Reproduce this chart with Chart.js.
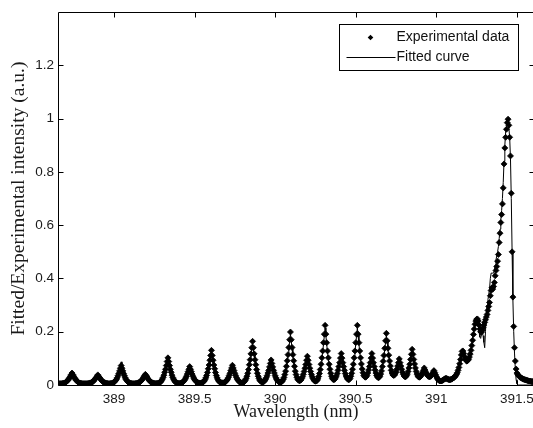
<!DOCTYPE html>
<html>
<head>
<meta charset="utf-8">
<script src="https://cdn.jsdelivr.net/npm/chart.js@4.4.1/dist/chart.umd.min.js"></script>
<style>
  html, body { margin: 0; padding: 0; background: #fff; overflow: hidden; }
  #wrap { position: relative; width: 540px; height: 428px; }
</style>
</head>
<body>
<div id="wrap"><canvas id="spectrumChart"></canvas></div>
<script>
// Bước sóng (nm), bước 0.005 nm
const wavelength = [
  388.660, 388.665, 388.670, 388.675, 388.680, 388.685, 388.690, 388.695, 388.700, 388.705,
  388.710, 388.715, 388.720, 388.725, 388.730, 388.735, 388.740, 388.745, 388.750, 388.755,
  388.760, 388.765, 388.770, 388.775, 388.780, 388.785, 388.790, 388.795, 388.800, 388.805,
  388.810, 388.815, 388.820, 388.825, 388.830, 388.835, 388.840, 388.845, 388.850, 388.855,
  388.860, 388.865, 388.870, 388.875, 388.880, 388.885, 388.890, 388.895, 388.900, 388.905,
  388.910, 388.915, 388.920, 388.925, 388.930, 388.935, 388.940, 388.945, 388.950, 388.955,
  388.960, 388.965, 388.970, 388.975, 388.980, 388.985, 388.990, 388.995, 389.000, 389.005,
  389.010, 389.015, 389.020, 389.025, 389.030, 389.035, 389.040, 389.045, 389.050, 389.055,
  389.060, 389.065, 389.070, 389.075, 389.080, 389.085, 389.090, 389.095, 389.100, 389.105,
  389.110, 389.115, 389.120, 389.125, 389.130, 389.135, 389.140, 389.145, 389.150, 389.155,
  389.160, 389.165, 389.170, 389.175, 389.180, 389.185, 389.190, 389.195, 389.200, 389.205,
  389.210, 389.215, 389.220, 389.225, 389.230, 389.235, 389.240, 389.245, 389.250, 389.255,
  389.260, 389.265, 389.270, 389.275, 389.280, 389.285, 389.290, 389.295, 389.300, 389.305,
  389.310, 389.315, 389.320, 389.325, 389.330, 389.335, 389.340, 389.345, 389.350, 389.355,
  389.360, 389.365, 389.370, 389.375, 389.380, 389.385, 389.390, 389.395, 389.400, 389.405,
  389.410, 389.415, 389.420, 389.425, 389.430, 389.435, 389.440, 389.445, 389.450, 389.455,
  389.460, 389.465, 389.470, 389.475, 389.480, 389.485, 389.490, 389.495, 389.500, 389.505,
  389.510, 389.515, 389.520, 389.525, 389.530, 389.535, 389.540, 389.545, 389.550, 389.555,
  389.560, 389.565, 389.570, 389.575, 389.580, 389.585, 389.590, 389.595, 389.600, 389.605,
  389.610, 389.615, 389.620, 389.625, 389.630, 389.635, 389.640, 389.645, 389.650, 389.655,
  389.660, 389.665, 389.670, 389.675, 389.680, 389.685, 389.690, 389.695, 389.700, 389.705,
  389.710, 389.715, 389.720, 389.725, 389.730, 389.735, 389.740, 389.745, 389.750, 389.755,
  389.760, 389.765, 389.770, 389.775, 389.780, 389.785, 389.790, 389.795, 389.800, 389.805,
  389.810, 389.815, 389.820, 389.825, 389.830, 389.835, 389.840, 389.845, 389.850, 389.855,
  389.860, 389.865, 389.870, 389.875, 389.880, 389.885, 389.890, 389.895, 389.900, 389.905,
  389.910, 389.915, 389.920, 389.925, 389.930, 389.935, 389.940, 389.945, 389.950, 389.955,
  389.960, 389.965, 389.970, 389.975, 389.980, 389.985, 389.990, 389.995, 390.000, 390.005,
  390.010, 390.015, 390.020, 390.025, 390.030, 390.035, 390.040, 390.045, 390.050, 390.055,
  390.060, 390.065, 390.070, 390.075, 390.080, 390.085, 390.090, 390.095, 390.100, 390.105,
  390.110, 390.115, 390.120, 390.125, 390.130, 390.135, 390.140, 390.145, 390.150, 390.155,
  390.160, 390.165, 390.170, 390.175, 390.180, 390.185, 390.190, 390.195, 390.200, 390.205,
  390.210, 390.215, 390.220, 390.225, 390.230, 390.235, 390.240, 390.245, 390.250, 390.255,
  390.260, 390.265, 390.270, 390.275, 390.280, 390.285, 390.290, 390.295, 390.300, 390.305,
  390.310, 390.315, 390.320, 390.325, 390.330, 390.335, 390.340, 390.345, 390.350, 390.355,
  390.360, 390.365, 390.370, 390.375, 390.380, 390.385, 390.390, 390.395, 390.400, 390.405,
  390.410, 390.415, 390.420, 390.425, 390.430, 390.435, 390.440, 390.445, 390.450, 390.455,
  390.460, 390.465, 390.470, 390.475, 390.480, 390.485, 390.490, 390.495, 390.500, 390.505,
  390.510, 390.515, 390.520, 390.525, 390.530, 390.535, 390.540, 390.545, 390.550, 390.555,
  390.560, 390.565, 390.570, 390.575, 390.580, 390.585, 390.590, 390.595, 390.600, 390.605,
  390.610, 390.615, 390.620, 390.625, 390.630, 390.635, 390.640, 390.645, 390.650, 390.655,
  390.660, 390.665, 390.670, 390.675, 390.680, 390.685, 390.690, 390.695, 390.700, 390.705,
  390.710, 390.715, 390.720, 390.725, 390.730, 390.735, 390.740, 390.745, 390.750, 390.755,
  390.760, 390.765, 390.770, 390.775, 390.780, 390.785, 390.790, 390.795, 390.800, 390.805,
  390.810, 390.815, 390.820, 390.825, 390.830, 390.835, 390.840, 390.845, 390.850, 390.855,
  390.860, 390.865, 390.870, 390.875, 390.880, 390.885, 390.890, 390.895, 390.900, 390.905,
  390.910, 390.915, 390.920, 390.925, 390.930, 390.935, 390.940, 390.945, 390.950, 390.955,
  390.960, 390.965, 390.970, 390.975, 390.980, 390.985, 390.990, 390.995, 391.000, 391.005,
  391.010, 391.015, 391.020, 391.025, 391.030, 391.035, 391.040, 391.045, 391.050, 391.055,
  391.060, 391.065, 391.070, 391.075, 391.080, 391.085, 391.090, 391.095, 391.100, 391.105,
  391.110, 391.115, 391.120, 391.125, 391.130, 391.135, 391.140, 391.145, 391.150, 391.155,
  391.160, 391.165, 391.170, 391.175, 391.180, 391.185, 391.190, 391.195, 391.200, 391.205,
  391.210, 391.215, 391.220, 391.225, 391.230, 391.235, 391.240, 391.245, 391.250, 391.255,
  391.260, 391.265, 391.270, 391.275, 391.280, 391.285, 391.290, 391.295, 391.300, 391.305,
  391.310, 391.315, 391.320, 391.325, 391.330, 391.335, 391.340, 391.345, 391.350, 391.355,
  391.360, 391.365, 391.370, 391.375, 391.380, 391.385, 391.390, 391.395, 391.400, 391.405,
  391.410, 391.415, 391.420, 391.425, 391.430, 391.435, 391.440, 391.445, 391.450, 391.455,
  391.460, 391.465, 391.470, 391.475, 391.480, 391.485, 391.490, 391.495, 391.500, 391.505,
  391.510, 391.515, 391.520, 391.525, 391.530, 391.535, 391.540, 391.545, 391.550, 391.555,
  391.560, 391.565, 391.570, 391.575, 391.580, 391.585, 391.590, 391.595, 391.600,
];

// Cường độ thực nghiệm (a.u.)
const experimentalIntensity = [
  0.005, 0.005, 0.005, 0.005, 0.006, 0.006, 0.007, 0.008, 0.010, 0.012,
  0.015, 0.018, 0.023, 0.027, 0.033, 0.039, 0.045, 0.039, 0.033, 0.027,
  0.023, 0.018, 0.015, 0.012, 0.010, 0.008, 0.007, 0.006, 0.006, 0.005,
  0.005, 0.005, 0.005, 0.005, 0.005, 0.005, 0.006, 0.006, 0.007, 0.008,
  0.009, 0.011, 0.013, 0.016, 0.020, 0.024, 0.028, 0.033, 0.038, 0.033,
  0.028, 0.024, 0.020, 0.016, 0.013, 0.011, 0.009, 0.008, 0.007, 0.006,
  0.006, 0.005, 0.005, 0.005, 0.006, 0.006, 0.007, 0.008, 0.010, 0.013,
  0.017, 0.021, 0.027, 0.035, 0.043, 0.053, 0.063, 0.073, 0.063, 0.053,
  0.043, 0.035, 0.027, 0.021, 0.017, 0.013, 0.010, 0.008, 0.007, 0.006,
  0.006, 0.005, 0.005, 0.005, 0.005, 0.006, 0.006, 0.007, 0.008, 0.009,
  0.011, 0.013, 0.017, 0.020, 0.025, 0.030, 0.035, 0.040, 0.035, 0.030,
  0.025, 0.020, 0.017, 0.013, 0.011, 0.009, 0.008, 0.007, 0.006, 0.006,
  0.005, 0.006, 0.006, 0.007, 0.008, 0.009, 0.012, 0.016, 0.022, 0.028,
  0.037, 0.048, 0.059, 0.073, 0.088, 0.102, 0.088, 0.073, 0.059, 0.048,
  0.037, 0.028, 0.022, 0.016, 0.012, 0.009, 0.008, 0.007, 0.006, 0.006,
  0.006, 0.007, 0.008, 0.010, 0.012, 0.016, 0.020, 0.026, 0.033, 0.041,
  0.050, 0.059, 0.069, 0.059, 0.050, 0.041, 0.033, 0.026, 0.021, 0.017,
  0.013, 0.011, 0.009, 0.008, 0.007, 0.007, 0.007, 0.008, 0.009, 0.012,
  0.015, 0.020, 0.027, 0.036, 0.047, 0.061, 0.075, 0.093, 0.111, 0.130,
  0.111, 0.093, 0.075, 0.061, 0.047, 0.036, 0.027, 0.020, 0.015, 0.012,
  0.009, 0.008, 0.008, 0.008, 0.008, 0.009, 0.011, 0.014, 0.018, 0.022,
  0.028, 0.036, 0.044, 0.054, 0.064, 0.074, 0.064, 0.054, 0.044, 0.036,
  0.028, 0.022, 0.018, 0.014, 0.011, 0.009, 0.008, 0.008, 0.009, 0.011,
  0.013, 0.018, 0.024, 0.033, 0.044, 0.058, 0.076, 0.095, 0.117, 0.140,
  0.164, 0.140, 0.117, 0.095, 0.076, 0.058, 0.044, 0.033, 0.024, 0.018,
  0.014, 0.012, 0.011, 0.011, 0.013, 0.016, 0.021, 0.027, 0.035, 0.045,
  0.055, 0.068, 0.081, 0.094, 0.081, 0.068, 0.055, 0.045, 0.035, 0.027,
  0.021, 0.016, 0.013, 0.011, 0.010, 0.010, 0.012, 0.015, 0.021, 0.028,
  0.039, 0.052, 0.070, 0.091, 0.114, 0.141, 0.170, 0.199, 0.170, 0.141,
  0.114, 0.091, 0.070, 0.052, 0.039, 0.029, 0.022, 0.018, 0.016, 0.017,
  0.019, 0.024, 0.031, 0.040, 0.051, 0.063, 0.077, 0.093, 0.108, 0.093,
  0.077, 0.063, 0.051, 0.040, 0.031, 0.024, 0.019, 0.015, 0.014, 0.015,
  0.017, 0.023, 0.032, 0.043, 0.058, 0.078, 0.102, 0.128, 0.159, 0.191,
  0.224, 0.191, 0.159, 0.128, 0.102, 0.078, 0.059, 0.044, 0.033, 0.025,
  0.021, 0.020, 0.022, 0.027, 0.034, 0.043, 0.055, 0.069, 0.084, 0.101,
  0.118, 0.101, 0.084, 0.069, 0.055, 0.043, 0.034, 0.027, 0.022, 0.020,
  0.021, 0.025, 0.033, 0.044, 0.059, 0.078, 0.102, 0.128, 0.159, 0.191,
  0.224, 0.191, 0.159, 0.128, 0.102, 0.079, 0.060, 0.046, 0.036, 0.031,
  0.029, 0.031, 0.036, 0.045, 0.056, 0.069, 0.084, 0.101, 0.118, 0.101,
  0.084, 0.069, 0.056, 0.045, 0.036, 0.030, 0.027, 0.029, 0.033, 0.041,
  0.053, 0.069, 0.089, 0.111, 0.138, 0.166, 0.194, 0.166, 0.138, 0.112,
  0.090, 0.071, 0.055, 0.045, 0.038, 0.036, 0.037, 0.042, 0.049, 0.059,
  0.071, 0.084, 0.098, 0.084, 0.071, 0.059, 0.048, 0.040, 0.034, 0.031,
  0.031, 0.035, 0.041, 0.051, 0.064, 0.078, 0.096, 0.115, 0.134, 0.115,
  0.096, 0.079, 0.064, 0.051, 0.041, 0.034, 0.030, 0.029, 0.031, 0.035,
  0.040, 0.047, 0.055, 0.064, 0.056, 0.048, 0.041, 0.037, 0.033, 0.031,
  0.031, 0.033, 0.037, 0.041, 0.048, 0.054, 0.047, 0.039, 0.032, 0.026,
  0.021, 0.018, 0.016, 0.015, 0.015, 0.016, 0.018, 0.020, 0.022, 0.024,
  0.025, 0.024, 0.022, 0.021, 0.020, 0.020, 0.021, 0.022, 0.024, 0.026,
  0.028, 0.031, 0.035, 0.040, 0.046, 0.055, 0.066, 0.080, 0.096, 0.113,
  0.126, 0.128, 0.118, 0.106, 0.097, 0.092, 0.090, 0.092, 0.097, 0.105,
  0.116, 0.130, 0.148, 0.168, 0.190, 0.210, 0.228, 0.240, 0.247, 0.248,
  0.240, 0.225, 0.210, 0.200, 0.198, 0.205, 0.215, 0.225, 0.235, 0.245,
  0.255, 0.265, 0.280, 0.295, 0.310, 0.335, 0.355, 0.365, 0.360, 0.370,
  0.385, 0.410, 0.430, 0.445, 0.465, 0.490, 0.535, 0.570, 0.610, 0.640,
  0.680, 0.740, 0.830, 0.890, 0.930, 0.960, 0.985, 0.998, 0.975, 0.930,
  0.860, 0.720, 0.500, 0.330, 0.220, 0.140, 0.090, 0.060, 0.045, 0.040,
  0.036, 0.032, 0.029, 0.027, 0.025, 0.024, 0.022, 0.021, 0.020, 0.019,
  0.018, 0.017, 0.016, 0.015, 0.015, 0.014, 0.013, 0.013, 0.012,
];

// Đường cong khớp (a.u.)
const fittedIntensity = [
  0.004, 0.004, 0.004, 0.004, 0.005, 0.005, 0.006, 0.007, 0.009, 0.011,
  0.014, 0.017, 0.022, 0.026, 0.032, 0.038, 0.043, 0.038, 0.032, 0.026,
  0.022, 0.017, 0.014, 0.011, 0.009, 0.007, 0.006, 0.005, 0.005, 0.004,
  0.004, 0.004, 0.004, 0.004, 0.004, 0.004, 0.005, 0.005, 0.006, 0.007,
  0.008, 0.010, 0.012, 0.015, 0.020, 0.025, 0.032, 0.039, 0.045, 0.039,
  0.032, 0.025, 0.020, 0.015, 0.012, 0.010, 0.008, 0.007, 0.006, 0.005,
  0.005, 0.004, 0.004, 0.004, 0.005, 0.005, 0.006, 0.007, 0.009, 0.012,
  0.016, 0.021, 0.028, 0.037, 0.047, 0.060, 0.074, 0.087, 0.074, 0.060,
  0.047, 0.037, 0.028, 0.021, 0.016, 0.012, 0.009, 0.007, 0.006, 0.005,
  0.005, 0.004, 0.004, 0.004, 0.004, 0.005, 0.005, 0.006, 0.007, 0.008,
  0.010, 0.012, 0.016, 0.019, 0.024, 0.029, 0.034, 0.039, 0.034, 0.029,
  0.024, 0.019, 0.016, 0.012, 0.010, 0.008, 0.007, 0.006, 0.005, 0.005,
  0.004, 0.005, 0.005, 0.006, 0.007, 0.008, 0.011, 0.015, 0.021, 0.027,
  0.036, 0.047, 0.058, 0.072, 0.087, 0.100, 0.087, 0.072, 0.058, 0.047,
  0.036, 0.027, 0.021, 0.015, 0.011, 0.008, 0.007, 0.006, 0.005, 0.005,
  0.005, 0.006, 0.007, 0.009, 0.011, 0.015, 0.020, 0.026, 0.034, 0.043,
  0.054, 0.065, 0.076, 0.065, 0.054, 0.043, 0.034, 0.026, 0.020, 0.016,
  0.012, 0.010, 0.008, 0.007, 0.006, 0.006, 0.006, 0.007, 0.008, 0.011,
  0.014, 0.019, 0.026, 0.035, 0.046, 0.059, 0.073, 0.090, 0.108, 0.126,
  0.108, 0.090, 0.073, 0.059, 0.046, 0.035, 0.026, 0.019, 0.014, 0.011,
  0.008, 0.007, 0.007, 0.007, 0.007, 0.008, 0.010, 0.013, 0.017, 0.021,
  0.027, 0.035, 0.043, 0.053, 0.062, 0.071, 0.062, 0.053, 0.043, 0.035,
  0.027, 0.021, 0.017, 0.013, 0.010, 0.008, 0.007, 0.007, 0.008, 0.010,
  0.012, 0.017, 0.023, 0.032, 0.042, 0.056, 0.073, 0.091, 0.113, 0.135,
  0.156, 0.135, 0.113, 0.091, 0.073, 0.056, 0.042, 0.032, 0.023, 0.017,
  0.013, 0.011, 0.010, 0.010, 0.012, 0.015, 0.020, 0.026, 0.034, 0.044,
  0.053, 0.066, 0.079, 0.091, 0.079, 0.066, 0.053, 0.044, 0.034, 0.026,
  0.020, 0.015, 0.012, 0.010, 0.009, 0.009, 0.011, 0.014, 0.020, 0.027,
  0.038, 0.050, 0.068, 0.088, 0.110, 0.136, 0.164, 0.190, 0.164, 0.136,
  0.110, 0.088, 0.068, 0.050, 0.038, 0.028, 0.021, 0.017, 0.015, 0.016,
  0.018, 0.023, 0.030, 0.039, 0.049, 0.061, 0.075, 0.090, 0.104, 0.090,
  0.075, 0.061, 0.049, 0.039, 0.030, 0.023, 0.018, 0.014, 0.013, 0.014,
  0.016, 0.022, 0.031, 0.042, 0.056, 0.075, 0.098, 0.123, 0.153, 0.184,
  0.214, 0.184, 0.153, 0.123, 0.098, 0.075, 0.057, 0.043, 0.032, 0.024,
  0.020, 0.019, 0.021, 0.026, 0.033, 0.042, 0.053, 0.067, 0.081, 0.097,
  0.113, 0.097, 0.081, 0.067, 0.053, 0.042, 0.033, 0.026, 0.021, 0.019,
  0.020, 0.024, 0.032, 0.043, 0.057, 0.075, 0.098, 0.123, 0.153, 0.184,
  0.215, 0.184, 0.153, 0.123, 0.098, 0.076, 0.058, 0.045, 0.035, 0.030,
  0.028, 0.030, 0.035, 0.044, 0.054, 0.067, 0.081, 0.097, 0.113, 0.097,
  0.081, 0.067, 0.054, 0.044, 0.035, 0.029, 0.026, 0.028, 0.032, 0.040,
  0.051, 0.067, 0.086, 0.107, 0.133, 0.160, 0.186, 0.160, 0.133, 0.108,
  0.087, 0.069, 0.053, 0.044, 0.037, 0.035, 0.036, 0.041, 0.047, 0.057,
  0.068, 0.081, 0.094, 0.081, 0.068, 0.057, 0.046, 0.039, 0.033, 0.030,
  0.030, 0.034, 0.040, 0.049, 0.062, 0.075, 0.092, 0.110, 0.128, 0.110,
  0.092, 0.076, 0.062, 0.049, 0.040, 0.033, 0.029, 0.028, 0.030, 0.034,
  0.039, 0.045, 0.053, 0.061, 0.054, 0.046, 0.040, 0.036, 0.032, 0.030,
  0.030, 0.032, 0.036, 0.040, 0.046, 0.051, 0.045, 0.037, 0.030, 0.024,
  0.019, 0.016, 0.014, 0.013, 0.013, 0.014, 0.016, 0.018, 0.020, 0.022,
  0.023, 0.022, 0.020, 0.019, 0.018, 0.018, 0.019, 0.020, 0.022, 0.024,
  0.026, 0.029, 0.033, 0.038, 0.044, 0.053, 0.064, 0.078, 0.094, 0.111,
  0.124, 0.124, 0.110, 0.095, 0.085, 0.080, 0.079, 0.082, 0.090, 0.100,
  0.113, 0.130, 0.152, 0.175, 0.200, 0.220, 0.236, 0.247, 0.250, 0.240,
  0.222, 0.200, 0.180, 0.175, 0.190, 0.200, 0.185, 0.160, 0.140, 0.200,
  0.270, 0.300, 0.320, 0.340, 0.360, 0.400, 0.420, 0.420, 0.420, 0.420,
  0.430, 0.450, 0.470, 0.485, 0.500, 0.520, 0.550, 0.585, 0.620, 0.655,
  0.700, 0.760, 0.840, 0.900, 0.950, 0.970, 0.975, 0.975, 0.965, 0.930,
  0.850, 0.700, 0.500, 0.320, 0.200, 0.120, 0.060, 0.020, 0.005, 0,
  0, 0, 0, 0, 0, 0, 0, 0, 0, 0,
  0, 0, 0, 0, 0, 0, 0, 0, 0,
];

const xTickValues = [389, 389.5, 390, 390.5, 391, 391.5];
const yTickValues = [0, 0.2, 0.4, 0.6, 0.8, 1, 1.2];
const seriesLabels = ["Experimental data", "Fitted curve"];

const TICK_FONT = { family: '"Liberation Sans", Arial, sans-serif', size: 13.5 };
const SERIF = '"Liberation Serif", "Times New Roman", serif';

if (wavelength.length !== experimentalIntensity.length || wavelength.length !== fittedIntensity.length) {
  throw new Error(
    "length mismatch: " + wavelength.length + " / " + experimentalIntensity.length + " / " + fittedIntensity.length
  );
}

// Khung trục + vạch chia hướng vào trong (kiểu MATLAB)
const frameTicks = {
  id: "frameTicks",
  beforeDatasetsDraw(chart) {
    const { ctx, chartArea: a, scales } = chart;
    const len = 5;
    const L = Math.round(a.left) + 0.5;
    const R = Math.round(a.right) + 0.5;
    const T = Math.round(a.top) + 0.5;
    const B = Math.round(a.bottom) + 0.5;
    ctx.save();
    ctx.strokeStyle = "#000";
    ctx.lineWidth = 1;
    ctx.beginPath();
    ctx.rect(L, T, R - L, B - T);
    scales.x.ticks.forEach((t) => {
      const px = Math.round(scales.x.getPixelForValue(t.value)) + 0.5;
      ctx.moveTo(px, B);
      ctx.lineTo(px, B - len);
      ctx.moveTo(px, T);
      ctx.lineTo(px, T + len);
    });
    scales.y.ticks.forEach((t) => {
      const py = Math.round(scales.y.getPixelForValue(t.value)) + 0.5;
      ctx.moveTo(L, py);
      ctx.lineTo(L + len, py);
      ctx.moveTo(R, py);
      ctx.lineTo(R - len, py);
    });
    ctx.stroke();
    ctx.restore();
  },
};

// Chú thích đặt trong vùng vẽ, góc trên bên phải
const boxLegend = {
  id: "boxLegend",
  afterDraw(chart) {
    const { ctx, chartArea: a } = chart;
    const ds = chart.data.datasets;
    const left = Math.round(a.right) - 195 + 0.5;
    const top = Math.round(a.top) + 12 + 0.5;
    const w = 179;
    const h = 46;
    ctx.save();
    ctx.fillStyle = "#fff";
    ctx.fillRect(left, top, w, h);
    ctx.strokeStyle = "#000";
    ctx.lineWidth = 1;
    ctx.strokeRect(left, top, w, h);

    ctx.font = '14px "Liberation Sans", Arial, sans-serif';
    ctx.textBaseline = "middle";
    ctx.textAlign = "left";

    // dòng 1: điểm thực nghiệm
    const y1 = top + 13;
    const r = 2.8;
    const mx = left + 31;
    ctx.fillStyle = ds[0].backgroundColor;
    ctx.beginPath();
    ctx.moveTo(mx, y1 - r);
    ctx.lineTo(mx + r, y1);
    ctx.lineTo(mx, y1 + r);
    ctx.lineTo(mx - r, y1);
    ctx.closePath();
    ctx.fill();
    ctx.fillStyle = "#111";
    ctx.fillText(ds[0].label, left + 57, y1);

    // dòng 2: đường khớp
    const y2 = top + 32.5;
    ctx.strokeStyle = ds[1].borderColor;
    ctx.beginPath();
    ctx.moveTo(left + 7, Math.round(y2) + 0.5);
    ctx.lineTo(left + 56, Math.round(y2) + 0.5);
    ctx.stroke();
    ctx.fillText(ds[1].label, left + 57, y2);
    ctx.restore();
  },
};

function initSpectrumChart() {
  const ctx = document.getElementById("spectrumChart");
  if (!ctx) return;

  const expPoints = wavelength.map((x, i) => ({ x: x, y: experimentalIntensity[i] }));
  const fitPoints = wavelength.map((x, i) => ({ x: x, y: fittedIntensity[i] }));

  new Chart(ctx, {
    type: "scatter",
    data: {
      datasets: [
        {
          label: seriesLabels[0],
          data: expPoints,
          pointStyle: "rectRot",
          pointRadius: 3,
          pointBorderWidth: 0.8,
          backgroundColor: "#000",
          borderColor: "#000",
          showLine: false,
          order: 2,
        },
        {
          label: seriesLabels[1],
          data: fitPoints,
          showLine: true,
          pointRadius: 0,
          borderColor: "#000",
          borderWidth: 1,
          tension: 0,
          order: 1,
        },
      ],
    },
    options: {
      responsive: true,
      maintainAspectRatio: false,
      animation: false,
      events: [],
      layout: { padding: { left: 0, right: 5, top: 9, bottom: 0 } },
      plugins: {
        legend: { display: false },
        tooltip: { enabled: false },
      },
      scales: {
        x: {
          type: "linear",
          min: 388.653,
          max: 391.605,
          grid: { display: false, drawTicks: false },
          border: { display: false },
          afterBuildTicks: (scale) => {
            scale.ticks = xTickValues.map((v) => ({ value: v }));
          },
          afterFit: (scale) => {
            scale.height = 43;
          },
          ticks: {
            autoSkip: false,
            maxRotation: 0,
            padding: 6,
            color: "#1a1a1a",
            font: TICK_FONT,
            callback: (v) => String(v),
          },
          title: {
            display: true,
            text: "Wavelength (nm)",
            color: "#1a1a1a",
            font: { family: SERIF, size: 18 },
            padding: { top: 0, bottom: 5 },
          },
        },
        y: {
          type: "linear",
          min: 0,
          max: 1.4,
          grid: { display: false, drawTicks: false },
          border: { display: false },
          afterBuildTicks: (scale) => {
            scale.ticks = yTickValues.map((v) => ({ value: v }));
          },
          afterFit: (scale) => {
            scale.width = 58;
          },
          ticks: {
            autoSkip: false,
            padding: 4,
            color: "#1a1a1a",
            font: TICK_FONT,
            callback: (v) => String(v),
          },
          title: {
            display: true,
            text: "Fitted/Experimental intensity (a.u.)",
            color: "#1a1a1a",
            font: { family: SERIF, size: 19.5 },
            padding: { top: 7, bottom: 0 },
          },
        },
      },
    },
    plugins: [frameTicks, boxLegend],
  });
}

document.addEventListener("DOMContentLoaded", initSpectrumChart);
</script>
</body>
</html>
